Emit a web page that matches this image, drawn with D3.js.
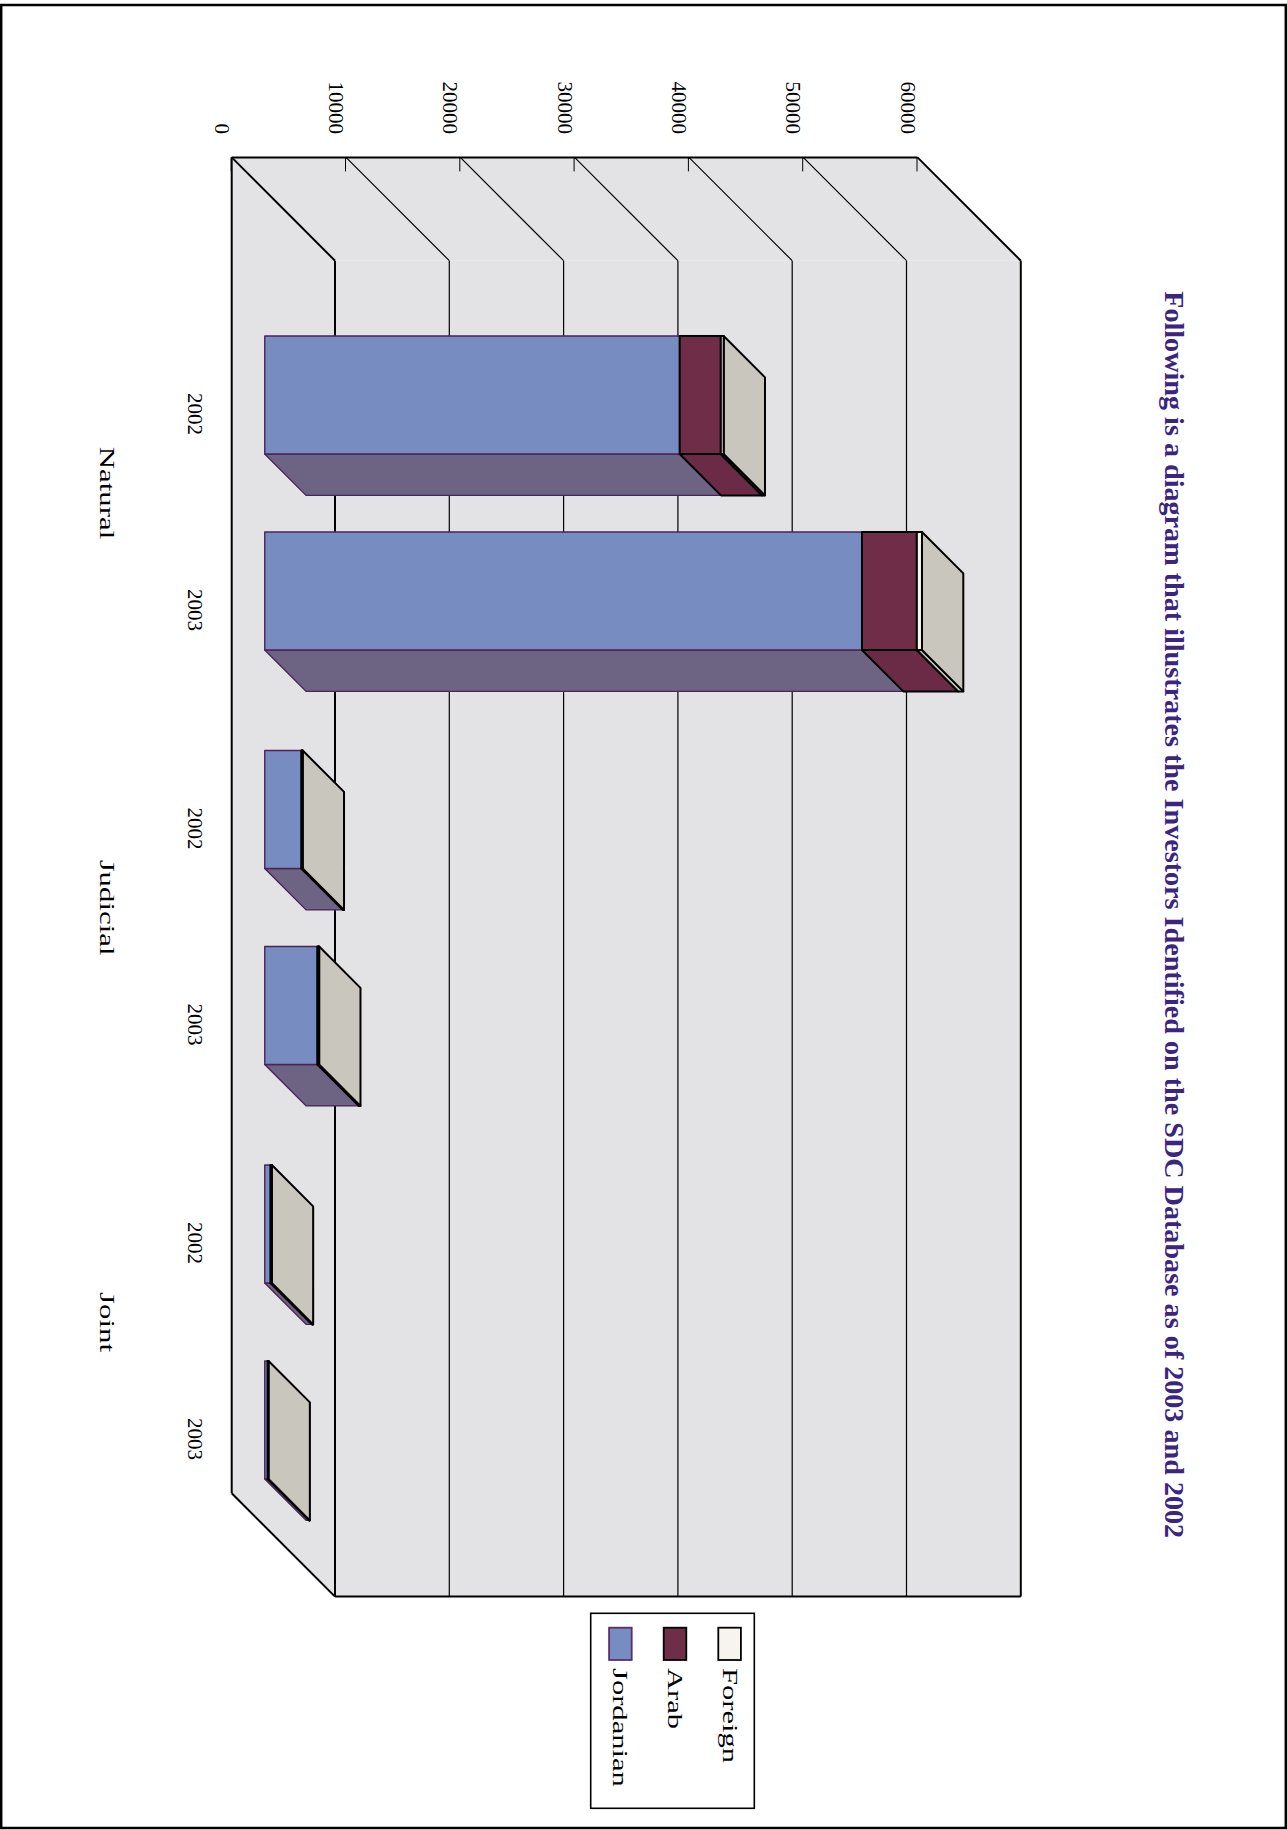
<!DOCTYPE html>
<html><head><meta charset="utf-8">
<script src="https://cdn.jsdelivr.net/npm/d3@7"></script>
<style>body{margin:0;background:#fff}svg{display:block}</style>
</head><body>
<script>
// ---- data ----
const groups = ["Natural", "Judicial", "Joint"];
const years = ["2002", "2003"];
const seriesNames = ["Jordanian", "Arab", "Foreign"];
const jordanian = [36300, 52250, 3200, 4600, 500, 250];
const arab = [3600, 4800, 60, 100, 60, 40];
const foreign = [250, 450, 60, 60, 60, 40];
const valueTicks = [0, 10000, 20000, 30000, 40000, 50000, 60000];
const titleText = "Following is a diagram that illustrates the Investors Identified on the SDC Database as of 2003 and 2002";

// ---- layout ----
const W = 1287, H = 1830;
const FONT = "'Liberation Serif','Times New Roman',serif";
const svg = d3.select("body").append("svg").attr("width", W).attr("height", H);
svg.append("rect").attr("width", W).attr("height", H).attr("fill", "#fff");
svg.append("rect").attr("x", 1.2).attr("y", 5).attr("width", W - 2.4).attr("height", H - 7)
  .attr("fill", "none").attr("stroke", "#000").attr("stroke-width", 2.5);

// whole chart is drawn in landscape orientation and rotated 90deg clockwise
const g = svg.append("g").attr("transform", `translate(${W},0) rotate(90)`);

const U0 = 157.4, U1 = 1493.3, D = 103.3, T1 = 0.32, T2 = 0.72, HALF = 59;
const y = d3.scaleLinear().domain([0, 60000]).range([1055.3, 369.5]);
const gx = d3.scalePoint().domain(groups).range([460, 1289]);
const yx = d3.scalePoint().domain(years).range([-98, 98]);

const rows = [];
groups.forEach(gr => years.forEach(yr => rows.push({ group: gr, year: yr })));
rows.forEach((r, i) => { r.Jordanian = jordanian[i]; r.Arab = arab[i]; r.Foreign = foreign[i]; });
const stacked = d3.stack().keys(seriesNames)(rows);

const wallFill = "#e3e3e6";
const frontCol = { Jordanian: "#778dc1", Arab: "#6f2d48", Foreign: "#f6f4ec" };
const sideCol = { Jordanian: "#6d6483", Arab: "#6b2b46", Foreign: "#c9c6be" };
const strokeCol = { Jordanian: "#4b2357", Arab: "#000", Foreign: "#000" };
const strokeW = { Jordanian: 1.4, Arab: 2, Foreign: 2 };

const y0 = y(0), yTop = y(60000);
const line = d3.line();

// walls
g.append("path").attr("d", line([[U0, y0], [U0, yTop], [U0 + D, yTop - D], [U0 + D, y0 - D]]) + "Z").attr("fill", wallFill);
g.append("path").attr("d", line([[U0, y0], [U0 + D, y0 - D], [U1 + D, y0 - D], [U1, y0]]) + "Z").attr("fill", wallFill);
g.append("rect").attr("x", U0 + D).attr("y", yTop - D).attr("width", U1 - U0).attr("height", y0 - yTop).attr("fill", wallFill);

// gridlines
valueTicks.forEach(k => {
  const edge = (k === 0 || k === 60000);
  g.append("line").attr("x1", U0 + D).attr("x2", U1 + D).attr("y1", y(k) - D).attr("y2", y(k) - D)
    .attr("stroke", "#000").attr("stroke-width", edge ? 2 : 1.2);
  g.append("line").attr("x1", U0).attr("x2", U0 + D).attr("y1", y(k)).attr("y2", y(k) - D)
    .attr("stroke", "#000").attr("stroke-width", edge ? 2 : 1.2);
});
const frame = [
  [[U1 + D, y0 - D], [U1 + D, yTop - D]],
  [[U0, y0], [U0, yTop]],
  [[U0, y0], [U1, y0]],
  [[U1, y0], [U1 + D, y0 - D]]
];
frame.forEach(s => g.append("path").attr("d", line(s)).attr("stroke", "#000").attr("stroke-width", 2).attr("fill", "none"));

// value axis
const axis = d3.axisLeft(y).tickValues(valueTicks).tickSizeInner(-14).tickSizeOuter(0).tickPadding(23.4).tickFormat(d3.format("d"));
const ax = g.append("g").attr("transform", `translate(${U0},0)`).call(axis);
ax.select(".domain").remove();
ax.selectAll(".tick line").attr("stroke", "#000").attr("stroke-width", 1);
ax.selectAll(".tick text").attr("dy", null).attr("y", 16.5)
  .attr("font-family", FONT).attr("font-size", 21).attr("fill", "#000");

// bars
rows.forEach((r, i) => {
  const uc = gx(r.group) + yx(r.year);
  const fu0 = uc - HALF + T1 * D, fu1 = uc + HALF + T1 * D;
  const bu0 = uc - HALF + T2 * D, bu1 = uc + HALF + T2 * D;
  stacked.forEach(layer => {
    const key = layer.key;
    const [a, b] = layer[i];
    const fa = y(a) - T1 * D, fb = y(b) - T1 * D, ba = y(a) - T2 * D, bb = y(b) - T2 * D;
    const st = sel => sel.attr("stroke", strokeCol[key]).attr("stroke-width", strokeW[key]).attr("stroke-linejoin", "round");
    g.append("path").attr("d", line([[fu1, fa], [fu1, fb], [bu1, bb], [bu1, ba]]) + "Z").attr("fill", sideCol[key]).call(st);
    g.append("path").attr("d", line([[fu0, fb], [fu1, fb], [bu1, bb], [bu0, bb]]) + "Z").attr("fill", sideCol[key]).call(st);
    g.append("rect").attr("x", fu0).attr("y", fb).attr("width", fu1 - fu0).attr("height", fa - fb).attr("fill", frontCol[key]).call(st);
  });
  // year label
  g.append("text").attr("x", uc + T1 * D + 19).attr("y", 1099).attr("text-anchor", "middle")
    .attr("font-family", FONT).attr("font-size", 21).attr("fill", "#000").text(r.year);
});

function stretch(sel, f) {
  sel.each(function () { const L = this.getComputedTextLength(); d3.select(this).attr("textLength", L * f).attr("lengthAdjust", "spacingAndGlyphs"); });
}

// group labels
groups.forEach(gr => {
  g.append("text").attr("x", gx(gr) + T1 * D).attr("y", 1187).attr("text-anchor", "middle")
    .attr("font-family", FONT).attr("font-size", 22).attr("fill", "#000").text(gr).call(stretch, 1.4);
});

// title
g.append("text").attr("x", 914.7).attr("y", 122).attr("text-anchor", "middle")
  .attr("font-family", FONT).attr("font-size", 27).attr("font-weight", "bold").attr("fill", "#3b2580")
  .attr("textLength", 1247).attr("lengthAdjust", "spacingAndGlyphs").text(titleText);

// legend
const lg = g.append("g");
lg.append("rect").attr("x", 1613.3).attr("y", 532.7).attr("width", 195).attr("height", 163.6)
  .attr("fill", "#fff").attr("stroke", "#000").attr("stroke-width", 1.6);
const legendOrder = seriesNames.slice().reverse();
const ly = d3.scalePoint().domain(legendOrder).range([557.4, 666.6]);
const swStroke = { Jordanian: "#5b2d6b", Arab: "#000", Foreign: "#000" };
legendOrder.forEach(k => {
  lg.append("rect").attr("x", 1627.7).attr("y", ly(k) - 11.3).attr("width", 32.3).attr("height", 22.6)
    .attr("fill", frontCol[k]).attr("stroke", swStroke[k]).attr("stroke-width", 1.8);
  lg.append("text").attr("x", 1668).attr("y", ly(k) + 7).attr("font-family", FONT).attr("font-size", 22)
    .attr("fill", "#000").text(k).call(stretch, 1.39);
});
</script>
</body></html>
